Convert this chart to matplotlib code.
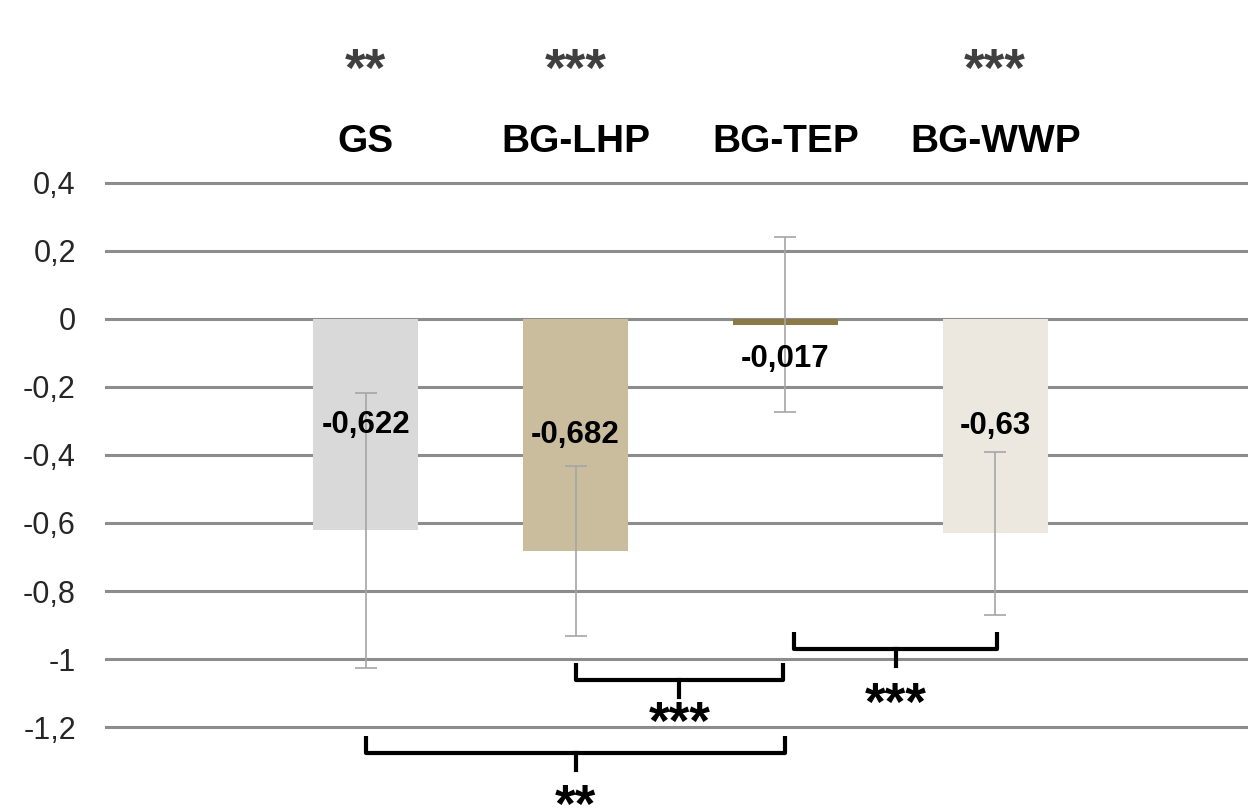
import numpy as np
from matplotlib import pyplot as plt

plt.rcParams['font.family'] = ['Liberation Sans', 'DejaVu Sans']

groups = ['GS', 'BG-LHP', 'BG-TEP', 'BG-WWP']
means = [-0.622, -0.682, -0.017, -0.63]
sds = [0.403, 0.25, 0.257, 0.24]
top_stars = ['**', '***', '', '***']
colors = ['#D9D9D9', '#C9BD9E', '#8B7A45', '#EDE8DF']

# pairwise comparisons: (left group, right group, stars)
pairs = [(1, 2, '***'), (2, 3, '***'), (0, 2, '**')]
yticks = [0.4, 0.2, 0, -0.2, -0.4, -0.6, -0.8, -1, -1.2]

# bracket layout (top of bracket, centre of its stars)
pair_top = [-1.012, -0.921, -1.226]
pair_star = [-1.165, -1.109, -1.41]

fig = plt.figure(figsize=(12.48, 8.1), dpi=100)
ax = fig.add_axes([105 / 1248, 0, 1 - 105 / 1248, 1])

x = np.arange(len(groups))
ax.bar(x, means, width=0.5, color=colors, zorder=3)
ax.errorbar(x, means, yerr=sds, fmt='none', ecolor='#A6A6A6', elinewidth=1.2,
            capsize=8, capthick=1.2, zorder=4)

for yv in yticks:
    ax.axhline(yv, color='#8C8C8C', lw=2.2, zorder=1)

# asterisk glyph sits high, so place by baseline
star_kw = dict(ha='center', va='baseline', fontsize=38, fontweight='bold')
star_off = 0.07

for i, v in enumerate(means):
    ly = v / 2 if abs(v) > 0.1 else v - 0.1
    ax.text(x[i], ly, str(v).replace('.', ','), ha='center', va='center',
            fontsize=22.5, fontweight='bold', color='black', zorder=5)
    ax.text(x[i], 0.52, groups[i], ha='center', va='center',
            fontsize=28, fontweight='bold', color='black')
    if top_stars[i]:
        ax.text(x[i], 0.756 - star_off, top_stars[i], color='#404040', **star_kw)

# brackets under the bars
for (a, b, s), top, sy in zip(pairs, pair_top, pair_star):
    xa = x[a] + (0.04 if a == 2 else 0)
    xb = x[b] + (0.01 if b == 3 else -0.01 if b == 2 and a == 1 else 0)
    mid = (xa + xb) / 2
    h = 0.05
    ax.plot([xa, xa, xb, xb], [top, top - h, top - h, top], color='black',
            lw=3, solid_joinstyle='round', solid_capstyle='butt', zorder=6)
    ax.plot([mid, mid], [top - h, top - h - 0.05], color='black', lw=3, zorder=6)
    ax.text(mid, sy - star_off, s, color='black', **star_kw)

ax.set_xlim(-1.243, 4.205)
ax.set_ylim(-1.444, 0.938)
ax.set_yticks(yticks)
ax.set_yticklabels([('%g' % t).replace('.', ',') for t in yticks],
                   fontsize=22, color='#262626')
ax.tick_params(axis='y', length=0, pad=21)
ax.set_xticks([])
for sp in ax.spines.values():
    sp.set_visible(False)

fig.savefig('out.png', dpi=100)
